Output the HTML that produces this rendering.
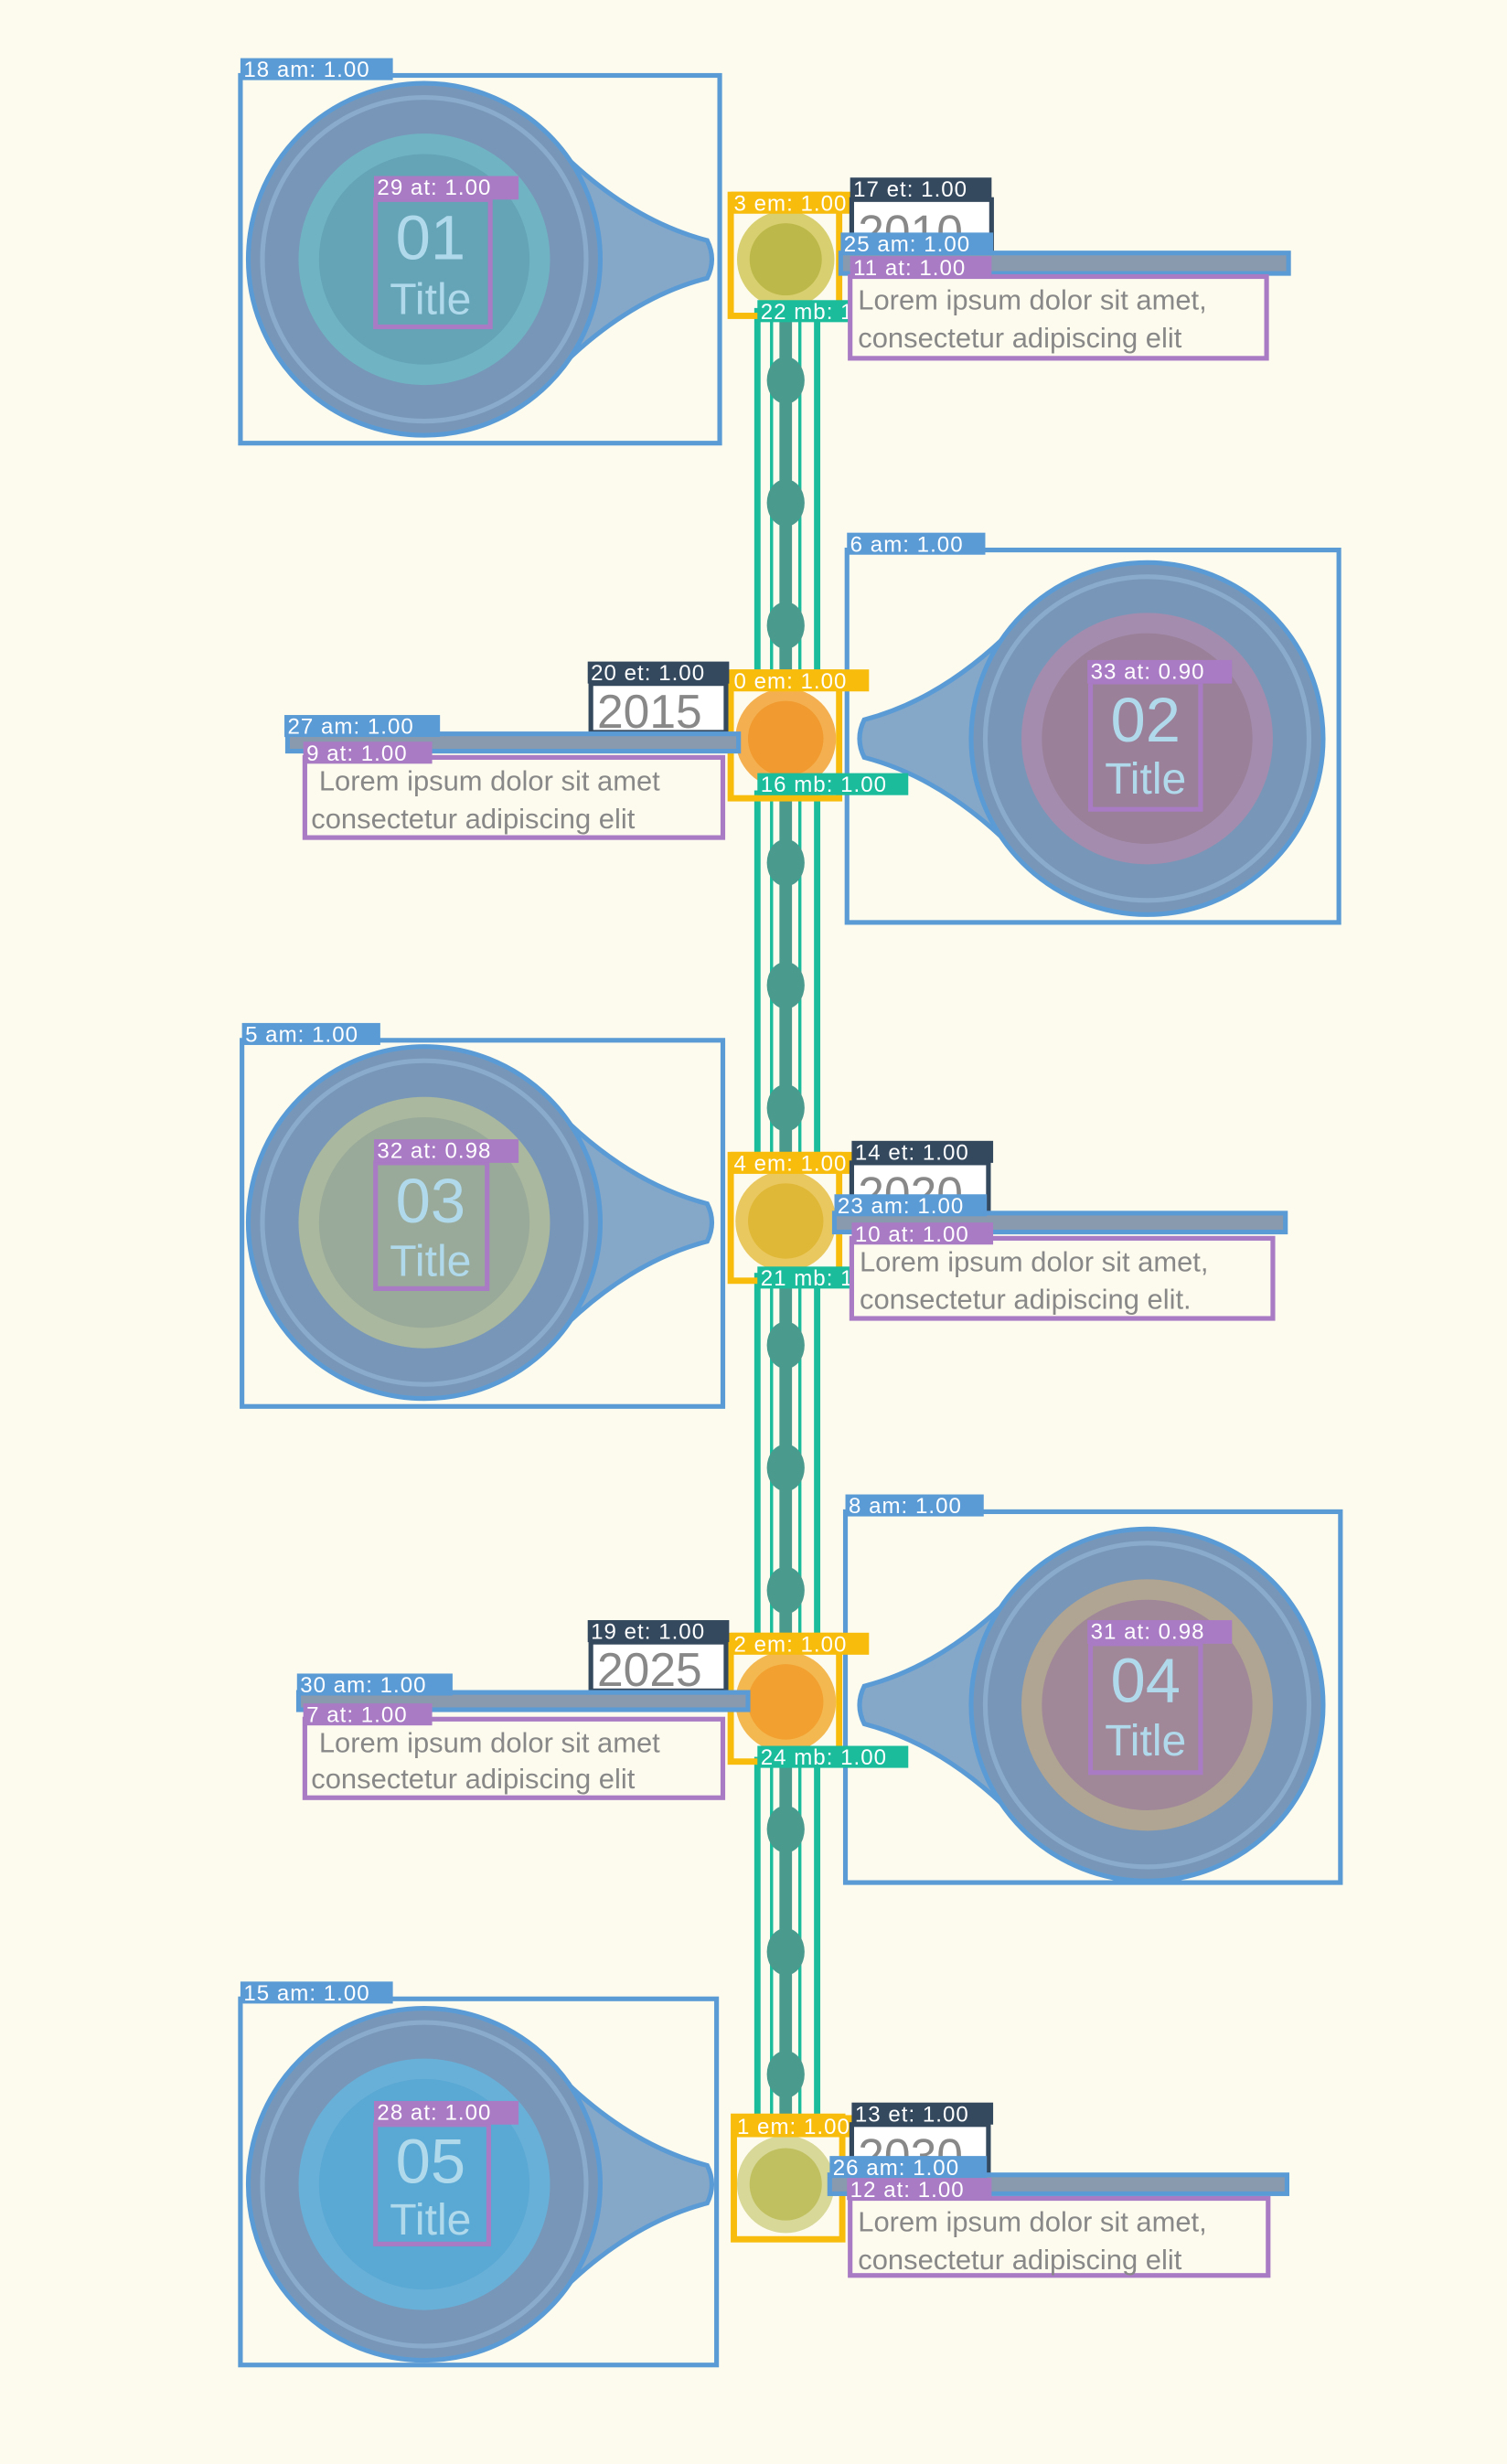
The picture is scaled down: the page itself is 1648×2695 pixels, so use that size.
<!DOCTYPE html>
<html><head><meta charset="utf-8"><style>
html,body{margin:0;padding:0;background:#fdfbee;}
svg{display:block;}
text{font-family:"Liberation Sans",sans-serif;}
.lb{fill:#fff;font-size:14px;letter-spacing:0.6px;}
</style></head><body>
<svg width="1648" height="2695" viewBox="0 0 959 1568" preserveAspectRatio="none" xmlns="http://www.w3.org/2000/svg">
<rect width="959" height="1568" fill="#fdfbee"/>
<defs>
<g id="chain">
  <rect x="482" y="0" width="38" height="235" fill="none" stroke="#1abc9c" stroke-width="4"/>
  <path d="M491 4 L491 235 M509 4 L509 235" stroke="#1abc9c" stroke-width="2" fill="none"/>
  <rect x="496" y="4" width="8" height="228" fill="#4a9a8e"/>
  <ellipse cx="500" cy="44" rx="12" ry="15" fill="#4a9a8e"/>
  <ellipse cx="500" cy="122" rx="12" ry="15" fill="#4a9a8e"/>
  <ellipse cx="500" cy="200" rx="12" ry="15" fill="#4a9a8e"/>
</g>
<g id="leftc">
  <path d="M85 -70 Q130 -25 180 -12 Q186 0 180 12 Q130 25 85 70 Z" fill="#86a8c8" stroke="#5b9bd5" stroke-width="3"/>
  <circle r="112" fill="#7897b8" stroke="#5b9bd5" stroke-width="3"/>
  <circle r="103" fill="#7897b8" stroke="#8aabcb" stroke-width="3"/>
</g>
<g id="rightc">
  <path d="M-85 -70 Q-130 -25 -180 -12 Q-186 0 -180 12 Q-130 25 -85 70 Z" fill="#86a8c8" stroke="#5b9bd5" stroke-width="3"/>
  <circle r="112" fill="#7897b8" stroke="#5b9bd5" stroke-width="3"/>
  <circle r="103" fill="#7897b8" stroke="#8aabcb" stroke-width="3"/>
</g>
</defs>

<use href="#chain" y="198"/>
<use href="#chain" y="505"/>
<use href="#chain" y="812"/>
<use href="#chain" y="1120"/>

<!-- ITEM 01 left -->
<rect x="153" y="48" width="305" height="234" fill="none" stroke="#5b9bd5" stroke-width="3"/>
<g transform="translate(270,165)"><use href="#leftc"/><circle r="80" fill="#70b4c4"/><circle r="67" fill="#64a4b6"/></g>
<rect x="239" y="127" width="73" height="81" fill="none" stroke="#a97bc4" stroke-width="3"/>
<text x="274" y="165" font-size="40" fill="#b0daec" text-anchor="middle">01</text>
<text x="274" y="200" font-size="28" fill="#b0daec" text-anchor="middle">Title</text>
<rect x="153" y="37" width="97" height="14" fill="#5b9bd5"/><text class="lb" x="155" y="49">18 am: 1.00</text>
<rect x="238" y="112" width="92" height="15" fill="#a97bc4"/><text class="lb" x="240" y="124">29 at: 1.00</text>

<!-- ITEM 02 right -->
<rect x="539" y="350" width="313" height="237" fill="none" stroke="#5b9bd5" stroke-width="3"/>
<g transform="translate(730,470)"><use href="#rightc"/><circle r="80" fill="#a48cae"/><circle r="67" fill="#9a8098"/></g>
<rect x="694" y="434" width="70" height="81" fill="none" stroke="#a97bc4" stroke-width="3"/>
<text x="729" y="472" font-size="40" fill="#b0daec" text-anchor="middle">02</text>
<text x="729" y="505" font-size="28" fill="#b0daec" text-anchor="middle">Title</text>
<rect x="539" y="339" width="88" height="14" fill="#5b9bd5"/><text class="lb" x="541" y="351">6 am: 1.00</text>
<rect x="692" y="420" width="92" height="15" fill="#a97bc4"/><text class="lb" x="694" y="432">33 at: 0.90</text>

<!-- ITEM 03 left -->
<rect x="154" y="662" width="306" height="233" fill="none" stroke="#5b9bd5" stroke-width="3"/>
<g transform="translate(270,778)"><use href="#leftc"/><circle r="80" fill="#a9b89e"/><circle r="67" fill="#9aaa9a"/></g>
<rect x="239" y="740" width="71" height="80" fill="none" stroke="#a97bc4" stroke-width="3"/>
<text x="274" y="778" font-size="40" fill="#b0daec" text-anchor="middle">03</text>
<text x="274" y="812" font-size="28" fill="#b0daec" text-anchor="middle">Title</text>
<rect x="154" y="651" width="88" height="14" fill="#5b9bd5"/><text class="lb" x="156" y="663">5 am: 1.00</text>
<rect x="238" y="725" width="92" height="15" fill="#a97bc4"/><text class="lb" x="240" y="737">32 at: 0.98</text>

<!-- ITEM 04 right -->
<rect x="538" y="962" width="315" height="236" fill="none" stroke="#5b9bd5" stroke-width="3"/>
<g transform="translate(730,1085)"><use href="#rightc"/><circle r="80" fill="#b0a492"/><circle r="67" fill="#a08898"/></g>
<rect x="694" y="1046" width="70" height="82" fill="none" stroke="#a97bc4" stroke-width="3"/>
<text x="729" y="1083" font-size="40" fill="#b0daec" text-anchor="middle">04</text>
<text x="729" y="1117" font-size="28" fill="#b0daec" text-anchor="middle">Title</text>
<rect x="538" y="951" width="88" height="14" fill="#5b9bd5"/><text class="lb" x="540" y="963">8 am: 1.00</text>
<rect x="692" y="1031" width="92" height="15" fill="#a97bc4"/><text class="lb" x="694" y="1043">31 at: 0.98</text>

<!-- ITEM 05 left -->
<rect x="153" y="1272" width="303" height="233" fill="none" stroke="#5b9bd5" stroke-width="3"/>
<g transform="translate(270,1390)"><use href="#leftc"/><circle r="80" fill="#68b0d8"/><circle r="67" fill="#5aa8d4"/></g>
<rect x="239" y="1352" width="72" height="76" fill="none" stroke="#a97bc4" stroke-width="3"/>
<text x="274" y="1389" font-size="40" fill="#b0daec" text-anchor="middle">05</text>
<text x="274" y="1422" font-size="28" fill="#b0daec" text-anchor="middle">Title</text>
<rect x="153" y="1261" width="97" height="14" fill="#5b9bd5"/><text class="lb" x="155" y="1273">15 am: 1.00</text>
<rect x="238" y="1337" width="92" height="15" fill="#a97bc4"/><text class="lb" x="240" y="1349">28 at: 1.00</text>

<!-- DOTS -->
<rect x="465" y="124" width="69" height="77" fill="none" stroke="#f7bc0c" stroke-width="4"/>
<circle cx="500" cy="165" r="31" fill="#d8d070"/><circle cx="500" cy="165" r="23" fill="#bdb84a"/>
<rect x="465" y="122" width="84" height="14" fill="#f7bc0c"/><text class="lb" x="467" y="134">3 em: 1.00</text>
<rect x="482" y="191" width="96" height="14" fill="#1abc9c"/><text class="lb" x="484" y="203">22 mb: 1.00</text>

<rect x="465" y="428" width="69" height="80" fill="none" stroke="#f7bc0c" stroke-width="4"/>
<circle cx="500" cy="470" r="32" fill="#f4b050"/><circle cx="500" cy="470" r="24" fill="#f09a30"/>
<rect x="465" y="426" width="88" height="14" fill="#f7bc0c"/><text class="lb" x="467" y="438">0 em: 1.00</text>
<rect x="482" y="492" width="96" height="14" fill="#1abc9c"/><text class="lb" x="484" y="504">16 mb: 1.00</text>

<rect x="465" y="735" width="69" height="80" fill="none" stroke="#f7bc0c" stroke-width="4"/>
<circle cx="500" cy="777" r="32" fill="#eac860"/><circle cx="500" cy="777" r="24" fill="#e0b838"/>
<rect x="465" y="733" width="84" height="14" fill="#f7bc0c"/><text class="lb" x="467" y="745">4 em: 1.00</text>
<rect x="482" y="806" width="96" height="14" fill="#1abc9c"/><text class="lb" x="484" y="818">21 mb: 1.00</text>

<rect x="465" y="1041" width="69" height="80" fill="none" stroke="#f7bc0c" stroke-width="4"/>
<circle cx="500" cy="1083" r="32" fill="#f4b850"/><circle cx="500" cy="1083" r="24" fill="#f2a030"/>
<rect x="465" y="1039" width="88" height="14" fill="#f7bc0c"/><text class="lb" x="467" y="1051">2 em: 1.00</text>
<rect x="482" y="1111" width="96" height="14" fill="#1abc9c"/><text class="lb" x="484" y="1123">24 mb: 1.00</text>

<rect x="467" y="1347" width="69" height="78" fill="none" stroke="#f7bc0c" stroke-width="4"/>
<circle cx="500" cy="1390" r="31" fill="#d8d898"/><circle cx="500" cy="1390" r="23" fill="#c0c060"/>
<rect x="467" y="1346" width="84" height="14" fill="#f7bc0c"/><text class="lb" x="469" y="1358">1 em: 1.00</text>

<!-- 2010 right -->
<rect x="542" y="127" width="89" height="32" fill="#fff" stroke="#34495e" stroke-width="3"/>
<text x="546" y="158" font-size="30" fill="#888">2010</text>
<rect x="535" y="161" width="285" height="13" fill="#8a9aae" stroke="#5b9bd5" stroke-width="3"/>
<rect x="541" y="176" width="265" height="52" fill="#fdfbee" stroke="#a97bc4" stroke-width="3"/>
<text x="546" y="197" font-size="18" fill="#888">Lorem ipsum dolor sit amet,</text>
<text x="546" y="221" font-size="18" fill="#888">consectetur adipiscing elit</text>
<rect x="541" y="113" width="90" height="14" fill="#34495e"/><text class="lb" x="543" y="125">17 et: 1.00</text>
<rect x="535" y="148" width="97" height="14" fill="#5b9bd5"/><text class="lb" x="537" y="160">25 am: 1.00</text>
<rect x="541" y="163" width="90" height="14" fill="#a97bc4"/><text class="lb" x="543" y="175">11 at: 1.00</text>

<!-- 2015 left -->
<rect x="376" y="435" width="86" height="31" fill="#fff" stroke="#34495e" stroke-width="3"/>
<text x="380" y="463" font-size="30" fill="#888">2015</text>
<rect x="183" y="467" width="287" height="11" fill="#8a9aae" stroke="#5b9bd5" stroke-width="3"/>
<rect x="194" y="482" width="266" height="51" fill="#fdfbee" stroke="#a97bc4" stroke-width="3"/>
<text x="203" y="503" font-size="18" fill="#888">Lorem ipsum dolor sit amet</text>
<text x="198" y="527" font-size="18" fill="#888">consectetur adipiscing elit</text>
<rect x="374" y="421" width="90" height="14" fill="#34495e"/><text class="lb" x="376" y="433">20 et: 1.00</text>
<rect x="181" y="455" width="99" height="14" fill="#5b9bd5"/><text class="lb" x="183" y="467">27 am: 1.00</text>
<rect x="193" y="472" width="82" height="14" fill="#a97bc4"/><text class="lb" x="195" y="484">9 at: 1.00</text>

<!-- 2020 right -->
<rect x="542" y="740" width="87" height="30" fill="#fff" stroke="#34495e" stroke-width="3"/>
<text x="546" y="770" font-size="30" fill="#888">2020</text>
<rect x="531" y="772" width="287" height="12" fill="#8a9aae" stroke="#5b9bd5" stroke-width="3"/>
<rect x="542" y="788" width="268" height="51" fill="#fdfbee" stroke="#a97bc4" stroke-width="3"/>
<text x="547" y="809" font-size="18" fill="#888">Lorem ipsum dolor sit amet,</text>
<text x="547" y="833" font-size="18" fill="#888">consectetur adipiscing elit.</text>
<rect x="542" y="726" width="90" height="14" fill="#34495e"/><text class="lb" x="544" y="738">14 et: 1.00</text>
<rect x="531" y="760" width="97" height="14" fill="#5b9bd5"/><text class="lb" x="533" y="772">23 am: 1.00</text>
<rect x="542" y="778" width="90" height="14" fill="#a97bc4"/><text class="lb" x="544" y="790">10 at: 1.00</text>

<!-- 2025 left -->
<rect x="376" y="1045" width="86" height="31" fill="#fff" stroke="#34495e" stroke-width="3"/>
<text x="380" y="1073" font-size="30" fill="#888">2025</text>
<rect x="190" y="1077" width="286" height="11" fill="#8a9aae" stroke="#5b9bd5" stroke-width="3"/>
<rect x="194" y="1094" width="266" height="50" fill="#fdfbee" stroke="#a97bc4" stroke-width="3"/>
<text x="203" y="1115" font-size="18" fill="#888">Lorem ipsum dolor sit amet</text>
<text x="198" y="1138" font-size="18" fill="#888">consectetur adipiscing elit</text>
<rect x="374" y="1031" width="90" height="14" fill="#34495e"/><text class="lb" x="376" y="1043">19 et: 1.00</text>
<rect x="189" y="1065" width="99" height="14" fill="#5b9bd5"/><text class="lb" x="191" y="1077">30 am: 1.00</text>
<rect x="193" y="1084" width="82" height="14" fill="#a97bc4"/><text class="lb" x="195" y="1096">7 at: 1.00</text>

<!-- 2030 right -->
<rect x="542" y="1352" width="87" height="30" fill="#fff" stroke="#34495e" stroke-width="3"/>
<text x="546" y="1382" font-size="30" fill="#888">2030</text>
<rect x="528" y="1384" width="291" height="12" fill="#8a9aae" stroke="#5b9bd5" stroke-width="3"/>
<rect x="541" y="1399" width="266" height="49" fill="#fdfbee" stroke="#a97bc4" stroke-width="3"/>
<text x="546" y="1420" font-size="18" fill="#888">Lorem ipsum dolor sit amet,</text>
<text x="546" y="1444" font-size="18" fill="#888">consectetur adipiscing elit</text>
<rect x="542" y="1338" width="90" height="14" fill="#34495e"/><text class="lb" x="544" y="1350">13 et: 1.00</text>
<rect x="528" y="1372" width="100" height="14" fill="#5b9bd5"/><text class="lb" x="530" y="1384">26 am: 1.00</text>
<rect x="539" y="1386" width="92" height="14" fill="#a97bc4"/><text class="lb" x="541" y="1398">12 at: 1.00</text>
</svg>
</body></html>
